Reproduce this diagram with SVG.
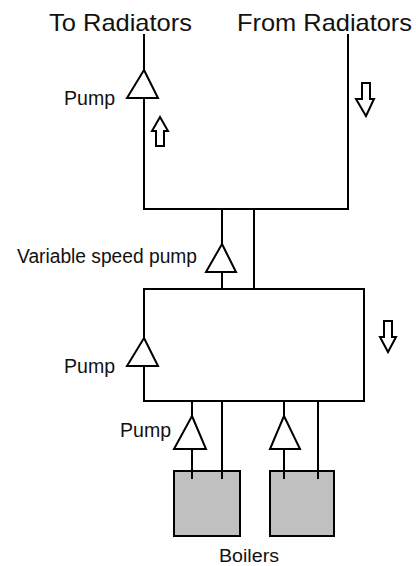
<svg xmlns="http://www.w3.org/2000/svg" width="416" height="566" viewBox="0 0 416 566">
<style>
.p{fill:none;stroke:#000;stroke-width:2}
.t{fill:#fff;stroke:#000;stroke-width:2;stroke-linejoin:miter}
.b{fill:#c0c0c0;stroke:#000;stroke-width:2}
text{font-family:"Liberation Sans",Arial,sans-serif;fill:#111}
.l{font-size:24px}
.s{font-size:20px}
.c{font-size:18px}
</style>
<rect width="416" height="566" fill="#fff"/>
<g id="boiler-1"><rect class="b" x="174" y="471" width="66" height="65"/></g>
<g id="boiler-2"><rect class="b" x="270" y="471" width="64" height="65"/></g>
<g id="connectors">
<path class="p" d="M144 34V209H348V34"/>
<path class="p" d="M222 209V289M254 209V289"/>
<path class="p" d="M144 289H364V401H144Z"/>
<path class="p" d="M192 401V479M222 401V479M284 401V479M318 401V479"/>
</g>
<g id="pump-top"><path class="t" d="M144 70L158 98H127Z"/></g>
<g id="pump-variable"><path class="t" d="M222 244L236 272H206Z"/></g>
<g id="pump-left"><path class="t" d="M144 338L158 366H127Z"/></g>
<g id="pump-boiler-1"><path class="t" d="M192 416L206 449H174Z"/></g>
<g id="pump-boiler-2"><path class="t" d="M284 416L300 449H270Z"/></g>
<g id="flow-up"><path class="t" d="M160 117L168 131H164V146H156V131H152Z"/></g>
<g id="flow-down-1"><path class="t" d="M362 83H370V99H374L366 116L356 99H362Z"/></g>
<g id="flow-down-2"><path class="t" d="M384 321H392V337H396L388 352L380 337H384Z"/></g>
<g id="labels">
<text class="l" x="49" y="31" textLength="143" lengthAdjust="spacingAndGlyphs">To Radiators</text>
<text class="l" x="237" y="31" textLength="175" lengthAdjust="spacingAndGlyphs">From Radiators</text>
<text class="s" x="64" y="105" textLength="51" lengthAdjust="spacingAndGlyphs">Pump</text>
<text class="s" x="17" y="263" textLength="180" lengthAdjust="spacingAndGlyphs">Variable speed pump</text>
<text class="s" x="64" y="373" textLength="51" lengthAdjust="spacingAndGlyphs">Pump</text>
<text class="s" x="120" y="437" textLength="51" lengthAdjust="spacingAndGlyphs">Pump</text>
<text class="c" x="219" y="562" textLength="60" lengthAdjust="spacingAndGlyphs">Boilers</text>
</g>
</svg>
